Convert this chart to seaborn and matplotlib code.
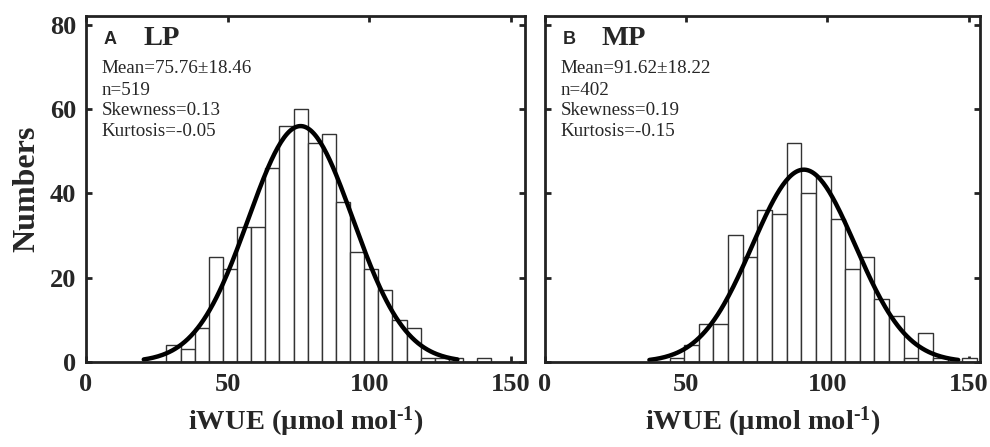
import numpy as np
import pandas as pd
import matplotlib
matplotlib.use('Agg')
import matplotlib.pyplot as plt
import seaborn as sns

# ------------------------
# Data
# ------------------------
# LP panel: 23 bins between data min and max
lp_counts = [4, 3, 8, 25, 22, 32, 32, 46, 56, 60, 52, 54, 38, 26, 22, 17, 10, 8, 1, 1, 1, 0, 1]
lp_range = (28.4, 143.1)
lp_mean, lp_sd, lp_n = 75.76, 18.46, 519
lp_stats = ['Mean=75.76\u00b118.46', 'n=519', 'Skewness=0.13', 'Kurtosis=-0.05']

# MP panel: 21 bins
mp_counts = [1, 4, 9, 9, 30, 25, 36, 35, 52, 40, 44, 34, 22, 25, 15, 11, 1, 7, 1, 0, 1]
mp_range = (44.1, 152.9)
mp_mean, mp_sd, mp_n = 91.62, 18.22, 402
mp_stats = ['Mean=91.62\u00b118.22', 'n=402', 'Skewness=0.19', 'Kurtosis=-0.15']

x_ticks = [0, 50, 100, 150]
y_ticks = [0, 20, 40, 60, 80]

# ------------------------
# Style
# ------------------------
sns.set_style('ticks')
plt.rcParams['font.family'] = ['Liberation Serif', 'DejaVu Serif']
plt.rcParams['mathtext.fontset'] = 'custom'
plt.rcParams['mathtext.rm'] = 'Liberation Serif:bold'
plt.rcParams['mathtext.default'] = 'rm'

edge = '#222222'


def draw_panel(ax, counts, rng, mean, sd, n, letter, name, stats, xmax, show_y):
    nb = len(counts)
    w = (rng[1] - rng[0]) / nb
    centers = rng[0] + w * (np.arange(nb) + 0.5)
    df = pd.DataFrame({'x': centers, 'count': counts})
    sns.histplot(data=df, x='x', weights='count', bins=nb, binrange=rng, ax=ax,
                 color='white', edgecolor='#333333', linewidth=1, alpha=1)

    # normal fit scaled to counts, drawn over mean +/- 3 sd (as histfit does)
    xs = np.linspace(mean - 3 * sd, mean + 3 * sd, 200)
    ys = n * w * np.exp(-0.5 * ((xs - mean) / sd) ** 2) / (sd * np.sqrt(2 * np.pi))
    sns.lineplot(x=xs, y=ys, ax=ax, color='black', linewidth=3.2)

    ax.set_xlim(0, xmax)
    ax.set_ylim(0, 82)
    ax.set_xticks(x_ticks)
    ax.set_yticks(y_ticks)
    ax.tick_params(direction='in', length=4, width=2, top=True, right=True,
                   labelsize=19, color=edge)
    ax.tick_params(axis='x', pad=8)
    ax.tick_params(axis='y', pad=7)
    for lab in ax.get_xticklabels() + ax.get_yticklabels():
        lab.set_fontweight('bold')
    for sp in ax.spines.values():
        sp.set_visible(True)
        sp.set_linewidth(2)
        sp.set_color(edge)

    ax.set_xlabel('iWUE (\u00b5mol mol$^{\\text{-1}}$)', fontsize=20.5,
                  fontweight='bold', labelpad=6)
    if show_y:
        ax.set_ylabel('Numbers', fontsize=23, fontweight='bold', labelpad=6)
    else:
        ax.set_ylabel('')
        ax.tick_params(axis='y', labelleft=False)

    ax.text(0.040, 0.933, letter, transform=ax.transAxes, fontsize=13,
            fontweight='bold', family='Liberation Sans', va='center', ha='left')
    ax.text(0.130, 0.936, name, transform=ax.transAxes, fontsize=20.5,
            fontweight='bold', va='center', ha='left')
    ys_txt = [0.849, 0.786, 0.727, 0.666]
    for s, yy in zip(stats, ys_txt):
        ax.text(0.036, yy, s, transform=ax.transAxes, fontsize=13.7,
                va='center', ha='left')


fig = plt.figure(figsize=(9.9, 4.47), dpi=100)
ax1 = fig.add_axes([0.0869, 0.190, 0.4434, 0.774])
ax2 = fig.add_axes([0.5505, 0.190, 0.4394, 0.774])

draw_panel(ax1, lp_counts, lp_range, lp_mean, lp_sd, lp_n, 'A', 'LP', lp_stats, 155, True)
draw_panel(ax2, mp_counts, mp_range, mp_mean, mp_sd, mp_n, 'B', 'MP', mp_stats, 154, False)

fig.savefig('out.png', dpi=100)
